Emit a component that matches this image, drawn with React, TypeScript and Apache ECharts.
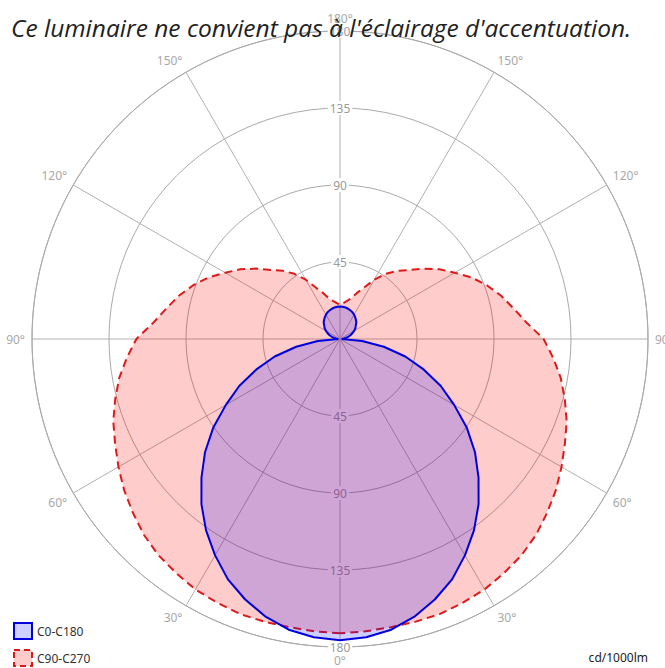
import React, { useEffect, useRef } from "react";
import * as echarts from "echarts";

// Gamma angles (degrees) at which intensities were read, 0° = down, 180° = up
const gammaAngles = [
  0, 5, 10, 15, 20, 25, 30, 35, 40, 45, 50, 55, 60, 65, 70, 75, 80, 85, 90,
  95, 100, 105, 110, 115, 120, 125, 130, 135, 140, 145, 150, 155, 160, 165, 170, 175, 180,
];

// C0-C180 plane, cd/1000lm
const c0c180 = [
  176, 175, 172.5, 168, 162, 155, 146, 136.5, 126, 114.5, 103, 90.5, 77, 65, 52, 39.5, 26, 13, 1,
  2, 3.5, 5, 6.5, 8, 9.5, 11, 12, 13.5, 14.5, 15.5, 16.5, 17.2, 17.8, 18.3, 18.7, 18.9, 19,
];

// C90-C270 plane, cd/1000lm
const c90c270 = [
  172, 171.5, 171, 171, 171, 170, 169, 167, 165, 162, 158, 154, 149.5, 145, 141, 136, 131, 125, 119,
  109.5, 103, 97.5, 91.5, 85, 77.5, 71, 64, 57, 52, 46.5, 40, 33, 28.5, 24.5, 22.5, 21, 20,
];

const seriesNames = ["C0-C180", "C90-C270"];
const radiusTicks = [0, 45, 90, 135, 180];
const unitLabel = "cd/1000lm";
const titleText = "Ce luminaire ne convient pas à l'éclairage d'accentuation.";

// Build closed polar curve: left half (C0 / C90) then mirrored right half (C180 / C270)
function buildCurve(values: number[]) {
  const pts: [number, number][] = [];
  for (let i = 0; i < gammaAngles.length; i++) pts.push([values[i], gammaAngles[i]]);
  for (let i = gammaAngles.length - 2; i >= 0; i--) pts.push([values[i], 360 - gammaAngles[i]]);
  return pts;
}

const CENTER = [340, 339];
const RADIUS = 308;
const FONT = "'Noto Sans', 'Open Sans', sans-serif";

export default function App() {
  const ref = useRef<HTMLDivElement>(null);

  useEffect(() => {
    if (!ref.current) return;
    const chart = echarts.init(ref.current, undefined, { renderer: "svg" });
    const rMax = radiusTicks[radiusTicks.length - 1];
    const rStep = radiusTicks[1] - radiusTicks[0];

    const hiddenAngle = (idx: number, start: number) => ({
      polarIndex: idx,
      type: "value",
      min: 0,
      max: 360,
      startAngle: start,
      show: false,
    });
    const labelRadius = (idx: number) => ({
      polarIndex: idx,
      type: "value",
      min: 0,
      max: rMax,
      interval: rStep,
      z: 1,
      axisLine: { show: false },
      axisTick: { show: false },
      splitLine: { show: false },
      axisLabel: {
        show: true,
        margin: 0,
        align: "center",
        verticalAlign: "middle",
        backgroundColor: "#ffffff",
        padding: [1, 2],
        color: "#9a9a9a",
        fontSize: 12,
        fontFamily: FONT,
        showMinLabel: false,
        formatter: (v: number) => (v === 0 ? "" : String(v)),
      },
    });

    chart.setOption({
      animation: false,
      backgroundColor: "#ffffff",
      title: {
        text: titleText,
        left: 11,
        top: 15,
        padding: 0,
        z: 10,
        textStyle: {
          fontFamily: "'Open Sans', 'Noto Sans', sans-serif",
          fontStyle: "italic",
          fontWeight: "normal",
          fontSize: 24.5,
          color: "#222222",
        },
      },
      legend: {
        orient: "vertical",
        left: 13,
        top: 622,
        padding: 0,
        itemWidth: 18,
        itemHeight: 16,
        itemGap: 9,
        textStyle: { fontSize: 12, color: "#333333", fontFamily: FONT },
        data: [
          {
            name: seriesNames[0],
            icon: "rect",
            itemStyle: { color: "rgba(0,0,255,0.19)", borderColor: "#0000dd", borderWidth: 2 },
          },
          {
            name: seriesNames[1],
            icon: "rect",
            itemStyle: {
              color: "rgba(255,0,0,0.2)",
              borderColor: "#dd1a1a",
              borderWidth: 2,
              borderType: [6, 4],
            },
          },
        ],
      },
      polar: [
        { center: CENTER, radius: RADIUS },
        { center: CENTER, radius: RADIUS },
        { center: CENTER, radius: RADIUS },
      ],
      angleAxis: [
        {
          polarIndex: 0,
          type: "value",
          min: 0,
          max: 360,
          interval: 30,
          startAngle: 270,
          clockwise: true,
          z: 0,
          axisLine: { show: true, lineStyle: { color: "#aaaaaa", width: 1 } },
          axisTick: { show: false },
          splitLine: { show: true, lineStyle: { color: "#b0b0b0", width: 1 } },
          axisLabel: {
            margin: 7,
            color: "#a8a8a8",
            fontSize: 12,
            fontFamily: FONT,
            formatter: (v: number) => (v > 180 ? 360 - v : v) + "°",
          },
        },
        hiddenAngle(1, 270),
        hiddenAngle(2, 90),
      ],
      radiusAxis: [
        {
          polarIndex: 0,
          type: "value",
          min: 0,
          max: rMax,
          interval: rStep,
          z: 0,
          axisLine: { show: false },
          axisTick: { show: false },
          axisLabel: { show: false },
          splitLine: { show: true, lineStyle: { color: "#aaaaaa", width: 1 } },
        },
        labelRadius(1),
        labelRadius(2),
      ],
      series: [
        {
          name: seriesNames[1],
          type: "line",
          coordinateSystem: "polar",
          polarIndex: 0,
          data: buildCurve(c90c270),
          smooth: false,
          showSymbol: false,
          symbol: "none",
          z: 2,
          itemStyle: { color: "#dd1a1a" },
          lineStyle: { color: "#dd1a1a", width: 2, type: [8, 5] },
          areaStyle: { color: "rgba(255,0,0,0.2)", opacity: 1 },
        },
        {
          name: seriesNames[0],
          type: "line",
          coordinateSystem: "polar",
          polarIndex: 0,
          data: buildCurve(c0c180),
          smooth: false,
          showSymbol: false,
          symbol: "none",
          z: 3,
          itemStyle: { color: "#0000dd" },
          lineStyle: { color: "#0000dd", width: 2 },
          areaStyle: { color: "rgba(0,0,255,0.19)", opacity: 1 },
        },
      ],
      graphic: [
        {
          type: "text",
          right: 17,
          top: 651,
          style: {
            text: unitLabel,
            fill: "#222222",
            fontSize: 12,
            fontFamily: FONT,
          },
        },
      ],
    });

    return () => chart.dispose();
  }, []);

  return (
    <div
      ref={ref}
      style={{ position: "fixed", left: 0, top: 0, width: 665, height: 668, background: "#fff" }}
    />
  );
}
